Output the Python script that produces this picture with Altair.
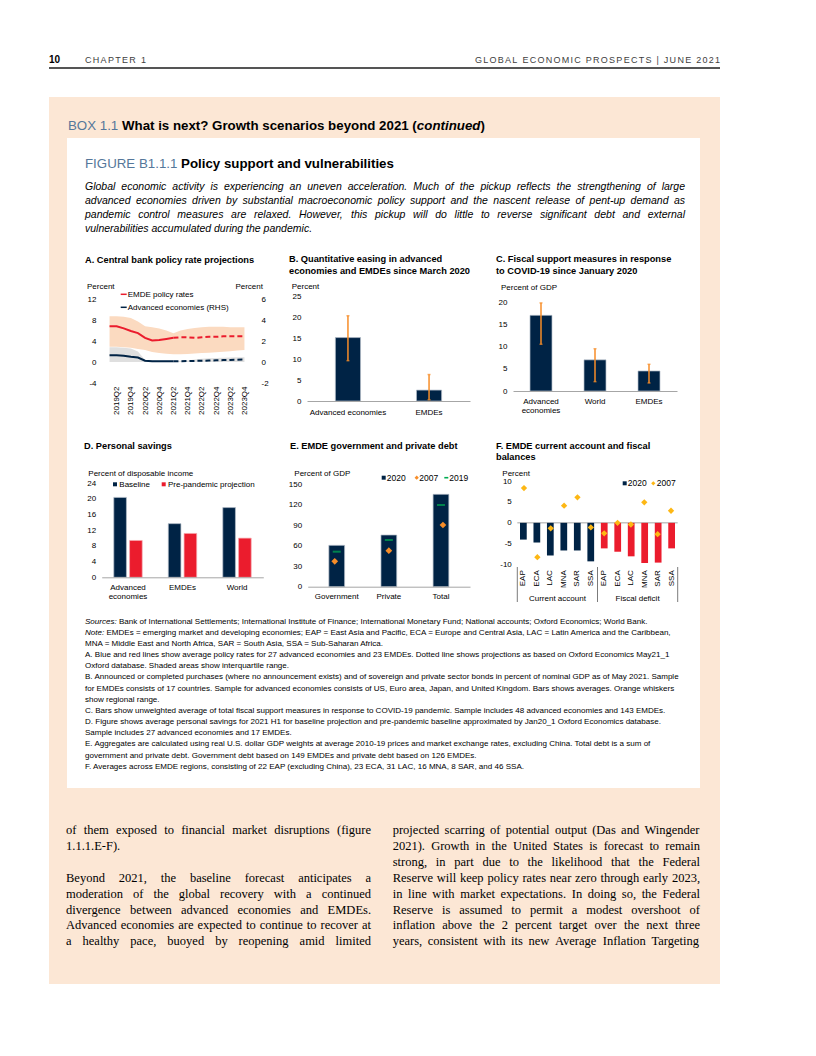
import altair as alt
import pandas as pd

# ====================== DATA ======================
# Panel A: central bank policy rates (quarterly)
quarters = ["2019Q1", "2019Q2", "2019Q3", "2019Q4", "2020Q1", "2020Q2", "2020Q3", "2020Q4",
            "2021Q1", "2021Q2", "2021Q3", "2021Q4", "2022Q1", "2022Q2", "2022Q3", "2022Q4",
            "2023Q1", "2023Q2", "2023Q3", "2023Q4"]
quarter_labels = ["2019Q2", "2019Q4", "2020Q2", "2020Q4", "2021Q2", "2021Q4",
                  "2022Q2", "2022Q4", "2023Q2", "2023Q4"]
emde_rate = [6.8, 6.8, 6.4, 5.9, 5.5, 4.6, 4.1, 4.2, 4.4, 4.6, 4.7, 4.7, 4.6, 4.7, 4.8, 4.8, 4.9, 4.9, 4.9, 4.9]
emde_p25 = [2.9, 2.9, 2.8, 2.7, 2.5, 2.3, 1.9, 1.7, 1.55, 1.47, 1.5, 1.53, 1.6, 1.7, 1.75, 1.85, 1.95, 2.05, 2.2, 2.3]
emde_p75 = [8.7, 8.7, 8.6, 8.4, 7.7, 6.8, 6.6, 6.4, 6.0, 5.5, 6.0, 6.3, 6.5, 6.6, 6.7, 6.7, 6.7, 6.6, 6.6, 6.6]
ae_rate = [0.65, 0.65, 0.6, 0.5, 0.42, 0.12, 0.08, 0.07, 0.07, 0.07, 0.08, 0.09, 0.1, 0.12, 0.14, 0.16, 0.18, 0.2, 0.22, 0.25]
ae_p25 = [0.0, 0.0, 0.0, 0.0, 0.0, 0.0, 0.0, 0.0, 0.0, 0.0, 0.0, 0.0, 0.0, 0.0, 0.0, 0.0, 0.0, 0.0, 0.0, 0.0]
ae_p75 = [1.4, 1.4, 1.35, 1.28, 1.0, 0.2, 0.12, 0.1, 0.1, 0.1, 0.12, 0.15, 0.25, 0.3, 0.35, 0.38, 0.4, 0.42, 0.45, 0.45]
proj_start = 9  # 2021Q2: projections begin

# Panel B: quantitative easing
qe_cats = ["Advanced economies", "EMDEs"]
qe_vals = [15.1, 2.6]
qe_lo = [9.6, 0.3]
qe_hi = [20.3, 6.3]

# Panel C: fiscal support
fs_cats = ["Advanced economies", "World", "EMDEs"]
fs_vals = [17.0, 7.0, 4.5]
fs_lo = [10.5, 2.1, 1.8]
fs_hi = [19.8, 9.5, 6.0]

# Panel D: personal savings
sav_cats = ["Advanced economies", "EMDEs", "World"]
sav_series = ["Baseline", "Pre-pandemic projection"]
sav_baseline = [20.4, 13.7, 17.8]
sav_prepandemic = [9.4, 11.2, 10.0]

# Panel E: EMDE debt
debt_cats = ["Government", "Private", "Total"]
debt_2020 = [60.6, 75.7, 135.3]
debt_2019 = [51.3, 68.4, 119.7]
debt_2007 = [37.1, 52.8, 90.4]

# Panel F: balances
bal_groups = ["Current account", "Fiscal deficit"]
bal_regions = ["EAP", "ECA", "LAC", "MNA", "SAR", "SSA"]
ca_2020 = [-4.0, -4.7, -7.8, -6.6, -6.6, -9.2]
ca_2007 = [8.3, -8.2, -1.3, 4.1, 6.1, -1.1]
fd_2020 = [-6.1, -6.9, -8.0, -9.6, -9.5, -6.1]
fd_2007 = [-2.5, 0.0, -0.4, 4.9, -2.7, 2.9]

# ====================== TEXT ======================
header_left_num = "10"
header_chapter = "CHAPTER 1"
header_right = "GLOBAL ECONOMIC PROSPECTS | JUNE 2021"
box_label = "BOX 1.1"
box_title = "What is next? Growth scenarios beyond 2021 ("
box_italic = "continued"
fig_label = "FIGURE B1.1.1"
fig_title = "Policy support and vulnerabilities"
fig_para = [
    "Global economic activity is experiencing an uneven acceleration. Much of the pickup reflects the strengthening of large",
    "advanced economies driven by substantial macroeconomic policy support and the nascent release of pent-up demand as",
    "pandemic control measures are relaxed. However, this pickup will do little to reverse significant debt and external",
    "vulnerabilities accumulated during the pandemic.",
]
panel_titles = {
    "A": ["A. Central bank policy rate projections"],
    "B": ["B. Quantitative easing in advanced", "economies and EMDEs since March 2020"],
    "C": ["C. Fiscal support measures in response", "to COVID-19 since January 2020"],
    "D": ["D. Personal savings"],
    "E": ["E. EMDE government and private debt"],
    "F": ["F. EMDE current account and fiscal", "balances"],
}
notes_lines = [
    "Sources: Bank of International Settlements; International Institute of Finance; International Monetary Fund; National accounts; Oxford Economics; World Bank.",
    "Note: EMDEs = emerging market and developing economies; EAP = East Asia and Pacific, ECA = Europe and Central Asia, LAC = Latin America and the Caribbean,",
    "MNA = Middle East and North Africa, SAR = South Asia, SSA = Sub-Saharan Africa.",
    "A. Blue and red lines show average policy rates for 27 advanced economies and 23 EMDEs. Dotted line shows projections as based on Oxford Economics  May21_1",
    "Oxford database. Shaded areas show interquartile range.",
    "B. Announced or completed purchases (where no announcement exists) and of sovereign and private sector bonds in percent of nominal GDP as of May 2021. Sample",
    "for EMDEs consists of 17 countries. Sample for advanced economies consists of US, Euro area, Japan, and United Kingdom. Bars shows averages. Orange whiskers",
    "show regional range.",
    "C. Bars show unweighted average of total fiscal support measures in response to COVID-19 pandemic. Sample includes 48 advanced economies and 143 EMDEs.",
    "D. Figure shows average personal savings for 2021 H1 for baseline projection and pre-pandemic baseline approximated by Jan20_1 Oxford Economics database.",
    "Sample includes 27 advanced economies and 17 EMDEs.",
    "E. Aggregates are calculated using real U.S. dollar GDP weights at average 2010-19 prices and market exchange rates, excluding China. Total debt is a sum of",
    "government and private debt. Government debt based on 149 EMDEs and private debt based on 126 EMDEs.",
    "F. Averages across EMDE regions, consisting of 22 EAP (excluding China), 23 ECA, 31 LAC, 16 MNA, 8 SAR, and 46 SSA.",
]
body_left = [
    "of them exposed to financial market disruptions (figure",
    "1.1.1.E-F).",
    "",
    "Beyond 2021, the baseline forecast anticipates a",
    "moderation of the global recovery with a continued",
    "divergence between advanced economies and EMDEs.",
    "Advanced economies are expected to continue to recover at",
    "a healthy pace, buoyed by reopening amid limited",
]
body_left_justified = [True, False, False, True, True, True, True, True]
body_right = [
    "projected scarring of potential output (Das and Wingender",
    "2021). Growth in the United States is forecast to remain",
    "strong, in part due to the likelihood that the Federal",
    "Reserve will keep policy rates near zero through early 2023,",
    "in line with market expectations. In doing so, the Federal",
    "Reserve is assumed to permit a modest overshoot of",
    "inflation above the 2 percent target over the next three",
    "years, consistent with its new Average Inflation Targeting",
]

# ====================== STYLE ======================
NAVY = "#002345"
RED = "#EB1C2D"
ORANGE = "#F78D28"
GOLD = "#FDB714"
GREEN = "#00AB51"
PEACH = "#FCE7D5"
BAND = "#FBDAC0"
GREYB = "#DFDFDF"
STEEL = "#55779A"
AXG = "#A6A6A6"
FS = "Liberation Sans"
SERIF = "Liberation Serif"
ONE = pd.DataFrame({"k": [0]})
W_PAGE, H_PAGE = 800, 1040
MINUS = "'' + datum.value"


def _tbl(spec, space):
    d = {" ": space}
    for chunk in spec.split():
        d[chunk[0]] = int(chunk[1:])
    return d


ARIAL_R = _tbl("A667 B667 C722 D722 E667 F611 G778 H722 I278 J500 K667 L556 M833 N722 O778 P667 Q778 R722 "
               "S667 T611 U722 V667 W944 X667 Y667 Z611 a556 b556 c500 d556 e556 f278 g556 h556 i222 j222 "
               "k500 l222 m833 n556 o556 p556 q556 r333 s500 t278 u556 v500 w722 x500 y500 z500 0556 1556 "
               "2556 3556 4556 5556 6556 7556 8556 9556 .278 ,278 ;278 :278 -333 (333 )333 =584 ?556 !278 "
               "|260 _556 /278 '191 %889 &667 +584", 278)
ARIAL_B = _tbl("A722 B722 C722 D722 E667 F611 G778 H722 I278 J556 K722 L611 M833 N722 O778 P667 Q778 R722 "
               "S667 T611 U722 V667 W944 X667 Y667 Z611 a556 b611 c556 d611 e556 f333 g611 h611 i278 j278 "
               "k556 l278 m889 n611 o611 p611 q611 r389 s556 t333 u611 v556 w778 x556 y556 z500 0556 1556 "
               "2556 3556 4556 5556 6556 7556 8556 9556 .278 ,278 ;333 :333 -333 (333 )333 ?611 !333 |280", 278)
TIMES = _tbl("A722 B667 C667 D722 E611 F556 G722 H722 I333 J389 K722 L611 M889 N722 O722 P556 Q722 R667 "
             "S556 T611 U722 V722 W944 X722 Y722 Z611 a444 b500 c444 d500 e444 f333 g500 h500 i278 j278 "
             "k500 l278 m778 n500 o500 p500 q500 r333 s389 t278 u500 v500 w722 x500 y500 z444 0500 1500 "
             "2500 3500 4500 5500 6500 7500 8500 9500 .250 ,250 ;278 :278 -333 (333 )333 ?444", 250)


def tw(s, tbl, size):
    return sum(tbl.get(c, 556) for c in s) * size / 1000.0


def justify(line, x0, x1, y, tbl, size):
    words = line.split()
    ws = [tw(w, tbl, size) for w in words]
    gap = (x1 - x0 - sum(ws)) / max(len(words) - 1, 1)
    rows, x = [], x0
    for w, wd in zip(words, ws):
        rows.append((w, x, y))
        x += wd + gap
    return rows


def spaced(text, x0, x1, y, tbl, size):
    ws = [tw(c, tbl, size) for c in text]
    extra = (x1 - x0 - sum(ws)) / (len(text) - 1)
    rows, x = [], x0
    for c, w in zip(text, ws):
        if c != " ":
            rows.append((c, x, y))
        x += w + extra
    return rows


def tblock(rows, size, weight="normal", style="normal", color="#000000", font=FS):
    df = pd.DataFrame(rows, columns=["t", "x", "y"])
    return alt.Chart(df).mark_text(font=font, fontSize=size, fontWeight=weight, fontStyle=style,
                                   color=color, align="left", baseline="alphabetic").encode(
        x=alt.X("x:Q", scale=None, axis=None), y=alt.Y("y:Q", scale=None, axis=None), text="t:N")


def vtext(s, x, y, size=8.0, weight="normal", color="#000000", align="left", style="normal"):
    return alt.Chart(ONE).mark_text(text=s, font=FS, fontSize=size, fontWeight=weight, fontStyle=style,
                                    color=color, align=align, baseline="alphabetic").encode(
        x=alt.value(x), y=alt.value(y))


def rect(x0, y0, x1, y1, color):
    return alt.Chart(ONE).mark_rect(color=color).encode(
        x=alt.value(x0), x2=alt.value(x1), y=alt.value(y0), y2=alt.value(y1))


def rule(x0, y0, x1, y1, color, width):
    return alt.Chart(ONE).mark_rule(color=color, strokeWidth=width).encode(
        x=alt.value(x0), x2=alt.value(x1), y=alt.value(y0), y2=alt.value(y1))


def lsquare(x, y, color):
    return alt.Chart(ONE).mark_square(size=16, color=color, opacity=1).encode(x=alt.value(x), y=alt.value(y))


def ldiamond(x, y, color, size=18):
    return alt.Chart(ONE).mark_point(shape="diamond", filled=True, size=size, color=color, opacity=1).encode(
        x=alt.value(x), y=alt.value(y))


def ptitle(key, o, rx, ry):
    return [vtext(t, o[0] + rx, o[1] + ry + i * 11.6, 9.25, "bold") for i, t in enumerate(panel_titles[key])]


def yaxis_left(o, values):
    return alt.Axis(values=values, orient="left", offset=-o[0], labelPadding=6, title=None,
                    labelExpr=MINUS, zindex=2, labelFont=FS, labelFontSize=8, labelColor="#000000")


def xaxis_bottom(o, h, **kw):
    return alt.Axis(orient="bottom", offset=-(H_PAGE - (o[1] + h)), title=None, zindex=2,
                    labelFont=FS, labelFontSize=8, labelColor="#000000", **kw)


layers = []

# ====================== PAGE BACKGROUND & HEADER ======================
layers.append(rect(41, 89, 712, 976, PEACH))
layers.append(rect(59, 130, 692, 780, "#FFFFFF"))
hdr_rows = spaced(header_chapter, 77, 138, 54.5, ARIAL_R, 9) + spaced(header_right, 467, 712, 54.5, ARIAL_R, 9)
layers.append(tblock([(header_left_num, 41, 54.5)], 10, weight="bold"))
layers.append(tblock(hdr_rows, 9, color="#404040"))
layers.append(rule(41, 60, 712, 60, "#555555", 1.8))

BOX_SIZE = 13.3
bx = 60
by = 121.7
bx2 = bx + tw(box_label + " ", ARIAL_R, BOX_SIZE)
bx3 = bx2 + tw(box_title, ARIAL_B, BOX_SIZE)
bx4 = bx3 + tw(box_italic, ARIAL_B, BOX_SIZE)
layers.append(tblock([(box_label, bx, by)], BOX_SIZE, color=STEEL))
layers.append(tblock([(box_title, bx2, by), (")", bx4, by)], BOX_SIZE, weight="bold"))
layers.append(tblock([(box_italic, bx3, by)], BOX_SIZE, weight="bold", style="italic"))

# figure title + paragraph
TITLE_SIZE = 13.3
PARA_SIZE = 10.5
fx, fy = 77, 159.7
layers.append(tblock([(fig_label, fx, fy)], TITLE_SIZE, color=STEEL))
layers.append(tblock([(fig_title, fx + tw(fig_label + " ", ARIAL_R, TITLE_SIZE), fy)], TITLE_SIZE, weight="bold"))
para_rows = []
for i, line in enumerate(fig_para):
    y = 181.5 + i * 14.3
    if i < len(fig_para) - 1:
        para_rows += justify(line, 77, 677, y, ARIAL_R, PARA_SIZE)
    else:
        para_rows.append((line, 77, y))
layers.append(tblock(para_rows, PARA_SIZE, style="italic"))

# ====================== PANEL A ======================
oA, WA, HA = (94, 291), 155, 84
dfA = pd.DataFrame({"q": quarters, "emde": emde_rate, "e25": emde_p25, "e75": emde_p75,
                    "ae": ae_rate, "a25": ae_p25, "a75": ae_p75})
actA = dfA.iloc[:proj_start + 1]
projA = dfA.iloc[proj_start:]
sxA = alt.Scale(type="point", domain=quarters, range=[oA[0] + 4, oA[0] + 146])
xA_ax = alt.X("q:O", scale=sxA, axis=xaxis_bottom(oA, HA, values=quarter_labels, labelAngle=-90, labelPadding=3))
xA = alt.X("q:O", scale=sxA, axis=None)
sL = alt.Scale(domain=[-4, 12], range=[oA[1] + HA, oA[1]], nice=False)
sR = alt.Scale(domain=[-2, 6], range=[oA[1] + HA, oA[1]], nice=False)
layers += [
    alt.Chart(dfA).mark_area(color=BAND).encode(
        x=xA_ax, y=alt.Y("e75:Q", scale=sL, axis=yaxis_left(oA, [-4, 0, 4, 8, 12])), y2="e25:Q"),
    alt.Chart(dfA).mark_area(color=GREYB).encode(
        x=xA, y=alt.Y("a75:Q", scale=sR, axis=alt.Axis(values=[-2, 0, 2, 4, 6], orient="right",
                                                       offset=-(W_PAGE - (oA[0] + WA)), labelPadding=4,
                                                       title=None, labelExpr=MINUS, zindex=2, labelFont=FS,
                                                       labelFontSize=8, labelColor="#000000")),
        y2="a25:Q"),
    alt.Chart(actA).mark_line(color=RED, strokeWidth=2).encode(x=xA, y=alt.Y("emde:Q", scale=sL, axis=None)),
    alt.Chart(projA).mark_line(color=RED, strokeWidth=2, strokeDash=[5, 3]).encode(x=xA, y=alt.Y("emde:Q", scale=sL, axis=None)),
    alt.Chart(actA).mark_line(color=NAVY, strokeWidth=2).encode(x=xA, y=alt.Y("ae:Q", scale=sR, axis=None)),
    alt.Chart(projA).mark_line(color=NAVY, strokeWidth=2, strokeDash=[5, 3]).encode(x=xA, y=alt.Y("ae:Q", scale=sR, axis=None)),
    rule(oA[0] + 18.7, oA[1] - 4.7, oA[0] + 24.7, oA[1] - 4.7, RED, 1.5),
    vtext("EMDE policy rates", oA[0] + 25.7, oA[1] - 1.9),
    rule(oA[0] + 18.7, oA[1] + 8.3, oA[0] + 24.7, oA[1] + 8.3, NAVY, 1.5),
    vtext("Advanced economies (RHS)", oA[0] + 25.7, oA[1] + 11.1),
    vtext("Percent", oA[0] - 15, oA[1] - 10.5),
    vtext("Percent", oA[0] + 161, oA[1] - 10.5, align="right"),
    *ptitle("A", oA, -17, -36.5),
]

# ====================== PANEL B ======================
oB, WB, HB = (299, 288), 163, 105
dfB = pd.DataFrame({"c": qe_cats, "v": qe_vals, "lo": qe_lo, "hi": qe_hi})
sxB = alt.Scale(domain=qe_cats, range=[oB[0], oB[0] + WB], paddingInner=0.69, paddingOuter=0.35)
xB_ax = alt.X("c:N", sort=qe_cats, scale=sxB,
              axis=xaxis_bottom(oB, HB, labelAngle=0, domain=True, domainColor=AXG, domainWidth=1, labelPadding=7))
xB = alt.X("c:N", sort=qe_cats, scale=sxB, axis=None)
syB = alt.Scale(domain=[0, 25], range=[oB[1] + HB, oB[1]], nice=False)
layers += [
    alt.Chart(dfB).mark_bar(color=NAVY, stroke="#B3BDC8", strokeWidth=0.7).encode(
        x=xB_ax, y=alt.Y("v:Q", scale=syB, axis=yaxis_left(oB, [0, 5, 10, 15, 20, 25]))),
    alt.Chart(dfB).mark_rule(color=ORANGE, strokeWidth=1.5).encode(x=xB, y=alt.Y("lo:Q", scale=syB, axis=None), y2="hi:Q"),
    alt.Chart(dfB).mark_tick(color=ORANGE, size=3, thickness=1.5, orient="horizontal").encode(x=xB, y=alt.Y("hi:Q", scale=syB, axis=None)),
    alt.Chart(dfB).mark_tick(color=ORANGE, size=3, thickness=1.5, orient="horizontal").encode(x=xB, y=alt.Y("lo:Q", scale=syB, axis=None)),
    vtext("Percent", oB[0] - 15.3, oB[1] - 7.5),
    *ptitle("B", oB, -18, -34),
]

# ====================== PANEL C ======================
oC, WC, HC = (505, 294), 164, 89
dfC = pd.DataFrame({"c": fs_cats, "v": fs_vals, "lo": fs_lo, "hi": fs_hi})
split_ae = "datum.label == 'Advanced economies' ? ['Advanced', 'economies'] : datum.label"
sxC = alt.Scale(domain=fs_cats, range=[oC[0], oC[0] + WC], paddingInner=0.593, paddingOuter=0.315)
xC_ax = alt.X("c:N", sort=fs_cats, scale=sxC,
              axis=xaxis_bottom(oC, HC, labelAngle=0, domain=True, domainColor=AXG, domainWidth=1, labelPadding=6,
                                labelExpr=split_ae, labelLineHeight=9.5))
xC = alt.X("c:N", sort=fs_cats, scale=sxC, axis=None)
syC = alt.Scale(domain=[0, 20], range=[oC[1] + HC, oC[1]], nice=False)
layers += [
    alt.Chart(dfC).mark_bar(color=NAVY, stroke="#B3BDC8", strokeWidth=0.7).encode(
        x=xC_ax, y=alt.Y("v:Q", scale=syC, axis=yaxis_left(oC, [0, 5, 10, 15, 20]))),
    alt.Chart(dfC).mark_rule(color=ORANGE, strokeWidth=1.5).encode(x=xC, y=alt.Y("lo:Q", scale=syC, axis=None), y2="hi:Q"),
    alt.Chart(dfC).mark_tick(color=ORANGE, size=3, thickness=1.5, orient="horizontal").encode(x=xC, y=alt.Y("hi:Q", scale=syC, axis=None)),
    alt.Chart(dfC).mark_tick(color=ORANGE, size=3, thickness=1.5, orient="horizontal").encode(x=xC, y=alt.Y("lo:Q", scale=syC, axis=None)),
    vtext("Percent of GDP", oC[0] - 12, oC[1] - 12),
    *ptitle("C", oC, -17, -40),
]

# ====================== PANEL D ======================
oD, WD, HD = (93.7, 475.3), 161.6, 94
dfD = pd.DataFrame({"c": sav_cats + sav_cats,
                    "s": [sav_series[0]] * len(sav_cats) + [sav_series[1]] * len(sav_cats),
                    "v": sav_baseline + sav_prepandemic})
sxD = alt.Scale(domain=sav_cats, range=[oD[0], oD[0] + WD], paddingInner=0.479, paddingOuter=0.222)
syD = alt.Scale(domain=[0, 24], range=[oD[1] + HD, oD[1]], nice=False)
layers += [
    alt.Chart(dfD).mark_bar(strokeWidth=0.7).encode(
        x=alt.X("c:N", sort=sav_cats, scale=sxD,
                axis=xaxis_bottom(oD, HD, labelAngle=0, domain=True, domainColor=AXG, domainWidth=1, labelPadding=6,
                                  labelExpr=split_ae, labelLineHeight=9.5)),
        xOffset=alt.XOffset("s:N", sort=sav_series, scale=alt.Scale(domain=sav_series, paddingInner=0.2)),
        y=alt.Y("v:Q", scale=syD, axis=yaxis_left(oD, [0, 4, 8, 12, 16, 20, 24])),
        color=alt.Color("s:N", scale=alt.Scale(domain=sav_series, range=[NAVY, RED]), legend=None),
        stroke=alt.Stroke("s:N", scale=alt.Scale(domain=sav_series, range=["#B3BDC8", "#F6A9AF"]), legend=None)),
    lsquare(oD[0] + 13.3, oD[1] + 1, NAVY), vtext("Baseline", oD[0] + 17.6, oD[1] + 3.8),
    lsquare(oD[0] + 62, oD[1] + 1, RED), vtext("Pre-pandemic projection", oD[0] + 66.3, oD[1] + 3.8),
    vtext("Percent of disposable income", oD[0] - 13.4, oD[1] - 7.3),
    *ptitle("D", oD, -17.7, -34.8),
]

# ====================== PANEL E ======================
oE, WE, HE = (299.7, 476.3), 162.3, 102.4
dfE = pd.DataFrame({"c": debt_cats, "v20": debt_2020, "v19": debt_2019, "v07": debt_2007})
sxE = alt.Scale(domain=debt_cats, range=[oE[0], oE[0] + WE], paddingInner=0.698, paddingOuter=0.406)
xE_ax = alt.X("c:N", sort=debt_cats, scale=sxE,
              axis=xaxis_bottom(oE, HE, labelAngle=0, domain=True, domainColor=AXG, domainWidth=1, labelPadding=6))
xE = alt.X("c:N", sort=debt_cats, scale=sxE, axis=None)
syE = alt.Scale(domain=[0, 150], range=[oE[1] + HE, oE[1]], nice=False)
layers += [
    alt.Chart(dfE).mark_bar(color=NAVY, stroke="#B3BDC8", strokeWidth=0.7).encode(
        x=xE_ax, y=alt.Y("v20:Q", scale=syE, axis=yaxis_left(oE, [0, 30, 60, 90, 120, 150]))),
    alt.Chart(dfE).mark_tick(color=GREEN, size=8, thickness=2, orient="horizontal").encode(
        x=xE, y=alt.Y("v19:Q", scale=syE, axis=None)),
    alt.Chart(dfE).mark_point(shape="diamond", filled=True, size=45, color=ORANGE, opacity=1).encode(
        x=xE, y=alt.Y("v07:Q", scale=syE, axis=None)),
    lsquare(oE[0] + 76, oE[1] - 6.6, NAVY), vtext("2020", oE[0] + 79, oE[1] - 3.6, 8.5),
    ldiamond(oE[0] + 109, oE[1] - 6.6, ORANGE), vtext("2007", oE[0] + 111.6, oE[1] - 3.6, 8.5),
    rule(oE[0] + 136.6, oE[1] - 6.6, oE[0] + 140.6, oE[1] - 6.6, GREEN, 1.6),
    vtext("2019", oE[0] + 141.6, oE[1] - 3.6, 8.5),
    vtext("Percent of GDP", oE[0] - 13.4, oE[1] - 8.8),
    *ptitle("E", oE, -17.7, -35.8),
]

# ====================== PANEL F ======================
oF, WF, HF = (509.3, 473), 160.4, 83.7
keysF = [g + "|" + r for g in bal_groups for r in bal_regions]
dfF = pd.DataFrame({"k": keysF,
                    "g": [bal_groups[0]] * len(bal_regions) + [bal_groups[1]] * len(bal_regions),
                    "v20": ca_2020 + fd_2020,
                    "v07": ca_2007 + fd_2007})
sxF = alt.Scale(domain=keysF, range=[oF[0], oF[0] + WF], paddingInner=0.5, paddingOuter=0.2)
xF_ax = alt.X("k:N", sort=keysF, scale=sxF,
              axis=xaxis_bottom(oF, HF, labelAngle=-90, labelPadding=5, labelExpr="split(datum.label, '|')[1]"))
xF = alt.X("k:N", sort=keysF, scale=sxF, axis=None)
syF = alt.Scale(domain=[-10, 10], range=[oF[1] + HF, oF[1]], nice=False)
sep_top, sep_bot = oF[1] + 86, oF[1] + 121
layers += [
    alt.Chart(ONE).mark_rule(color=AXG, strokeWidth=1).encode(
        x=alt.value(oF[0]), x2=alt.value(oF[0] + WF), y=alt.YDatum(0, scale=syF, axis=None)),
    alt.Chart(dfF).mark_bar().encode(
        x=xF_ax, y=alt.Y("v20:Q", scale=syF, axis=yaxis_left(oF, [-10, -5, 0, 5, 10])),
        color=alt.Color("g:N", scale=alt.Scale(domain=bal_groups, range=[NAVY, RED]), legend=None)),
    alt.Chart(dfF).mark_point(shape="diamond", filled=True, size=40, color=GOLD, opacity=1).encode(
        x=xF, y=alt.Y("v07:Q", scale=syF, axis=None)),
    rule(oF[0], sep_top, oF[0], sep_bot, "#595959", 0.8),
    rule(oF[0] + WF / 2, sep_top, oF[0] + WF / 2, sep_bot, "#595959", 0.8),
    rule(oF[0] + WF, sep_top, oF[0] + WF, sep_bot, "#595959", 0.8),
    vtext(bal_groups[0], oF[0] + WF / 4, oF[1] + 119.5, align="center"),
    vtext(bal_groups[1], oF[0] + 3 * WF / 4, oF[1] + 119.5, align="center"),
    lsquare(oF[0] + 107.4, oF[1] + 2.3, NAVY), vtext("2020", oF[0] + 110.4, oF[1] + 5.2, 8.5),
    ldiamond(oF[0] + 136, oF[1] + 2.3, GOLD), vtext("2007", oF[0] + 139.4, oF[1] + 5.2, 8.5),
    vtext("Percent", oF[0] - 15, oF[1] - 5.5),
    *ptitle("F", oF, -21.3, -32.5),
]

# ====================== NOTES ======================
NOTE_SIZE = round((680 - 85) / tw(notes_lines[5], ARIAL_R, 1.0), 2)
note_reg, note_it = [], []
for i, line in enumerate(notes_lines):
    y = 615.7 + i * 11.15
    prefix = None
    for p in ("Sources:", "Note:"):
        if line.startswith(p):
            prefix = p
    if prefix:
        note_it.append((prefix, 77, y))
        note_reg.append((line[len(prefix):].lstrip(), 77 + tw(prefix + " ", ARIAL_R, NOTE_SIZE), y))
    else:
        note_reg.append((line, 77, y))
layers.append(tblock(note_it, NOTE_SIZE, style="italic"))
layers.append(tblock(note_reg, NOTE_SIZE))

# ====================== BODY TEXT ======================
BODY_SIZE = 12.5
body_rows = []
for i, line in enumerate(body_left):
    y = 826 + i * 15.9
    if not line:
        continue
    if body_left_justified[i]:
        body_rows += justify(line, 58, 363, y, TIMES, BODY_SIZE)
    else:
        body_rows.append((line, 58, y))
for i, line in enumerate(body_right):
    y = 826 + i * 15.9
    body_rows += justify(line, 384.7, 692, y, TIMES, BODY_SIZE)
layers.append(tblock(body_rows, BODY_SIZE, font=SERIF))

chart = alt.layer(*layers).resolve_scale(x="independent", y="independent").properties(
    width=W_PAGE, height=H_PAGE,
    autosize=alt.AutoSizeParams(type="none"),
    padding={"left": 0, "top": 0, "right": 0, "bottom": 0},
).configure_view(strokeWidth=0).configure_axis(
    labelFont=FS, labelFontSize=8, labelColor="#000000", ticks=False, grid=False, domain=False,
    labelOverlap=False
)

chart.save("out.html", embed_options={"renderer": "svg", "actions": False})
